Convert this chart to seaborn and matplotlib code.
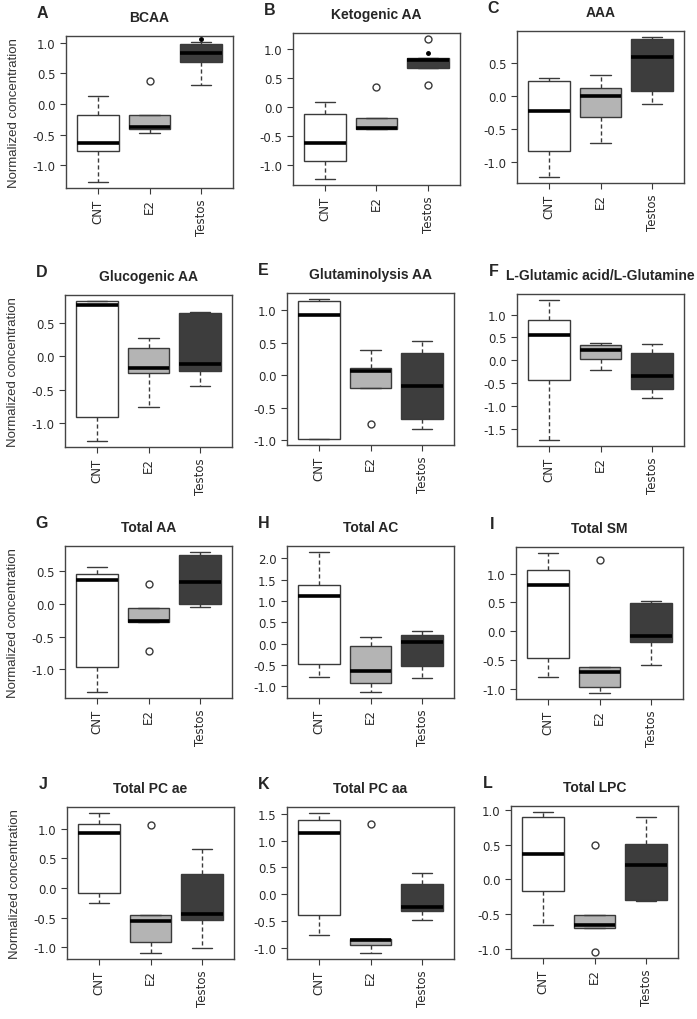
import numpy as np
import pandas as pd
import seaborn as sns
import matplotlib.pyplot as plt
from matplotlib.ticker import MultipleLocator, FormatStrFormatter

groups = ['CNT', 'E2', 'Testos']
box_colors = ['#ffffff', '#b4b4b4', '#3d3d3d']

titles = ['BCAA', 'Ketogenic AA', 'AAA', 'Glucogenic AA', 'Glutaminolysis AA',
          'L-Glutamic acid/L-Glutamine', 'Total AA', 'Total AC', 'Total SM',
          'Total PC ae', 'Total PC aa', 'Total LPC']
letters = list('ABCDEFGHIJKL')

# five values per group (CNT, E2, Testos), read off the boxes:
# box = 2nd..4th value, points beyond 1.5 IQR show up as outliers
bcaa = [[-1.28, -0.76, -0.63, -0.18, 0.13],
        [-0.48, -0.40, -0.37, -0.18, 0.37],
        [0.31, 0.69, 0.84, 0.98, 1.02]]
keto = [[-1.25, -0.94, -0.62, -0.12, 0.08],
        [-0.39, -0.385, -0.36, -0.19, 0.33],
        [0.37, 0.67, 0.80, 0.845, 1.17]]
aaa = [[-1.23, -0.83, -0.22, 0.23, 0.27],
       [-0.71, -0.31, 0.0, 0.13, 0.32],
       [-0.12, 0.075, 0.59, 0.86, 0.90]]
gluco = [[-1.27, -0.91, 0.76, 0.82, 0.83],
         [-0.75, -0.25, -0.18, 0.13, 0.27],
         [-0.44, -0.22, -0.12, 0.65, 0.66]]
glutamino = [[-0.99, -0.985, 0.93, 1.15, 1.18],
             [-0.75, -0.20, 0.06, 0.11, 0.39],
             [-0.83, -0.68, -0.16, 0.34, 0.52]]
glu_gln = [[-1.76, -0.43, 0.55, 0.875, 1.33],
           [-0.21, 0.02, 0.23, 0.34, 0.37],
           [-0.84, -0.63, -0.34, 0.15, 0.35]]
total_aa = [[-1.35, -0.97, 0.36, 0.455, 0.57],
            [-0.72, -0.27, -0.26, -0.06, 0.30],
            [-0.045, 0.0, 0.33, 0.755, 0.80]]
total_ac = [[-0.77, -0.48, 1.11, 1.37, 2.16],
            [-1.14, -0.91, -0.64, -0.06, 0.16],
            [-0.81, -0.52, 0.03, 0.195, 0.30]]
total_sm = [[-0.79, -0.46, 0.80, 1.06, 1.365],
            [-1.08, -0.97, -0.71, -0.62, 1.23],
            [-0.585, -0.19, -0.09, 0.495, 0.52]]
pc_ae = [[-0.25, -0.08, 0.92, 1.08, 1.27],
         [-1.10, -0.91, -0.55, -0.45, 1.07],
         [-1.01, -0.545, -0.43, 0.23, 0.66]]
pc_aa = [[-0.75, -0.39, 1.14, 1.38, 1.52],
         [-1.10, -0.945, -0.86, -0.83, 1.30],
         [-0.48, -0.32, -0.23, 0.20, 0.405]]
lpc = [[-0.66, -0.16, 0.37, 0.90, 0.975],
       [-1.05, -0.70, -0.655, -0.51, 0.50],
       [-0.305, -0.30, 0.20, 0.51, 0.90]]

# the little filled dots above two of the Testos boxes
dot_titles = ['BCAA', 'Ketogenic AA']
dot_groups = ['Testos', 'Testos']
dot_values = [1.07, 0.93]

panels = [bcaa, keto, aaa, gluco, glutamino, glu_gln,
          total_aa, total_ac, total_sm, pc_ae, pc_aa, lpc]

# panel frames in pixels (left, top)
frames = [(66, 37), (293, 34), (517, 32),
          (65, 296), (287, 294), (517, 295),
          (65, 547), (287, 547), (516, 548),
          (67, 808), (287, 808), (511, 807)]
fw, fh = 167, 152

sns.set_style('ticks')
plt.rcParams['font.family'] = ['Liberation Sans', 'DejaVu Sans']
plt.rcParams['axes.unicode_minus'] = False

W, H = 697, 1020
fig = plt.figure(figsize=(W / 100, H / 100), dpi=100)
edge = '#3a3a3a'

for i, vals in enumerate(panels):
    left, top = frames[i]
    ax = fig.add_axes([left / W, 1 - (top + fh) / H, fw / W, fh / H])

    df = pd.DataFrame({'group': np.repeat(groups, [len(v) for v in vals]),
                       'value': np.concatenate(vals)})
    sns.boxplot(data=df, x='group', y='value', hue='group', palette=box_colors,
                legend=False, ax=ax, width=0.8, whis=1.5, linecolor=edge,
                linewidth=1, fliersize=5,
                flierprops={'marker': 'o', 'markerfacecolor': 'none',
                            'markeredgecolor': edge, 'markeredgewidth': 1},
                medianprops={'color': 'black', 'linewidth': 2.6},
                whiskerprops={'linestyle': (0, (3, 2))})

    for t, g, v in zip(dot_titles, dot_groups, dot_values):
        if t == titles[i]:
            ax.plot(groups.index(g), v, marker='o', ms=2.5, color='black')

    # R style limits: data range plus 4% on each side
    allv = np.concatenate(vals)
    lo, hi = allv.min(), allv.max()
    r = hi - lo
    ax.set_ylim(lo - 0.04 * r, hi + 0.04 * r)
    ax.set_xlim(-0.62, 2.62)
    ax.yaxis.set_major_locator(MultipleLocator(0.5))
    ax.yaxis.set_major_formatter(FormatStrFormatter('%.1f'))

    ax.tick_params(axis='x', labelrotation=90, length=4, color=edge)
    ax.tick_params(axis='y', length=4, color=edge)
    for lab in ax.get_xticklabels() + ax.get_yticklabels():
        lab.set_fontfamily('DejaVu Sans')
        lab.set_fontsize(8.5)
        lab.set_color('#2a2a2a')
    for s in ax.spines.values():
        s.set_visible(True)
        s.set_color('#444444')
        s.set_linewidth(1)

    ax.set_xlabel('')
    if i % 3 == 0:
        ax.set_ylabel('Normalized concentration', fontsize=9.5, color='#333333')
        ax.yaxis.set_label_coords(-0.275, 0.5)
    else:
        ax.set_ylabel('')

    ax.set_title(titles[i], fontsize=10, fontweight='bold', pad=11)
    ax.annotate(letters[i], xy=(0, 1), xycoords='axes fraction',
                xytext=(-17, 13.5), textcoords='offset points',
                ha='center', va='baseline', fontsize=11.5, fontweight='bold')

fig.savefig('out.png', dpi=100, facecolor='white')
